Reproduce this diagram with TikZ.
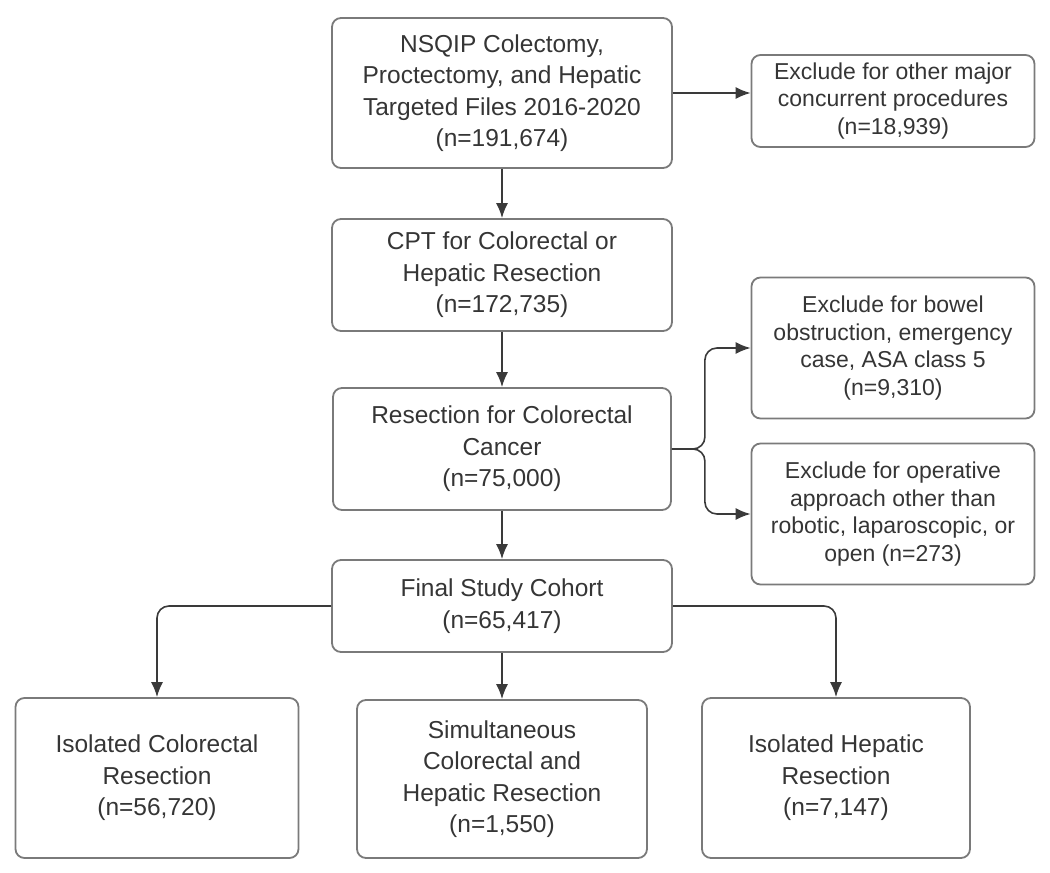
\documentclass[tikz,border=0pt]{standalone}
\usepackage{fontspec}
\setmainfont{Liberation Sans}
\usepackage{tikz}
\usetikzlibrary{arrows.meta}
\definecolor{boxline}{HTML}{7A7A7A}
\definecolor{txt}{HTML}{353535}
\definecolor{arrline}{HTML}{3A3A3A}

\begin{document}
\begin{tikzpicture}[x=1pt,y=-1pt,
  box/.style={draw=boxline,line width=1.8pt,rounded corners=9pt,align=center,
    text=txt,font=\fontsize{24.5}{31.5}\selectfont,inner sep=0pt},
  xbox/.style={box,font=\fontsize{23}{27.5}\selectfont},
  arr/.style={draw=arrline,line width=1.6pt,-{Latex[length=15pt,width=12pt]}}]
\useasboundingbox (0,0) rectangle (1050,873);
% \draw [help lines,step=50] (0,0) grid (1050,873);
%% main column
\node[box,minimum width=340,minimum height=150] (nsqip) at (502,93)
  {NSQIP Colectomy,\\Proctectomy, and Hepatic\\Targeted Files 2016-2020\\(n=191,674)};
\node[box,minimum width=340,minimum height=112] (cpt) at (502,275)
  {CPT for Colorectal or\\Hepatic Resection\\(n=172,735)};
\node[box,minimum width=338,minimum height=122] (crc) at (502,449)
  {Resection for Colorectal\\Cancer\\(n=75,000)};
\node[box,minimum width=340,minimum height=92] (final) at (502,606)
  {Final Study Cohort\\(n=65,417)};
%% exclusions
\node[xbox,minimum width=283,minimum height=92] (exmajor) at (893,101)
  {Exclude for other major\\concurrent procedures\\(n=18,939)};
\node[xbox,minimum width=283,minimum height=141] (exobst) at (893,348)
  {Exclude for bowel\\obstruction, emergency\\case, ASA class 5\\(n=9,310)};
\node[xbox,minimum width=283,minimum height=141] (exappr) at (893,514)
  {Exclude for operative\\approach other than\\robotic, laparoscopic, or\\open (n=273)};
%% groups
\node[box,minimum width=283,minimum height=160] (isocrc) at (157,778)
  {Isolated Colorectal\\Resection\\(n=56,720)};
\node[box,minimum width=290,minimum height=158] (simul) at (502,779)
  {Simultaneous\\Colorectal and\\Hepatic Resection\\(n=1,550)};
\node[box,minimum width=268,minimum height=160] (isohep) at (836,778)
  {Isolated Hepatic\\Resection\\(n=7,147)};
%% arrows
\draw[arr] (nsqip.east) -- (nsqip.east -| exmajor.west);
\draw[arr] (nsqip) -- (cpt);
\draw[arr] (cpt) -- (crc);
\draw[arr] (crc) -- (final);
\draw[arr,rounded corners=12pt] (crc.east) -- ++(33,0) |- (exobst.west);
\draw[arr,rounded corners=12pt] (crc.east) -- ++(33,0) |- (exappr.west);
\draw[arr,rounded corners=12pt] (final.west) -| (isocrc.north);
\draw[arr] (final) -- (simul);
\draw[arr,rounded corners=12pt] (final.east) -| (isohep.north);
\end{tikzpicture}
\end{document}
